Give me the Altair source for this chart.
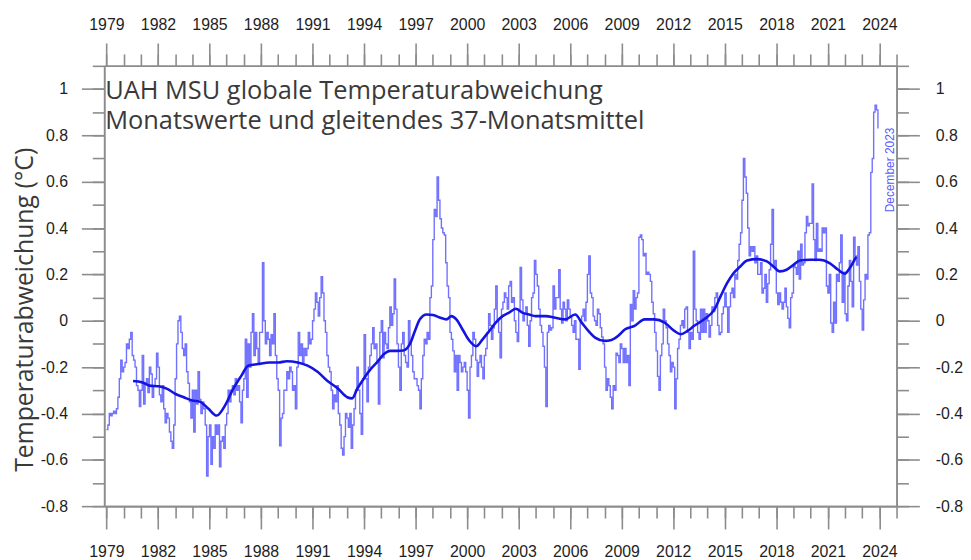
import altair as alt
import pandas as pd

# ---------------- data: monthly anomalies (deg C), Jan 1979 .. Dec 2023 ----------------
monthly_1979_1987 = [
    -0.47, -0.45, -0.40, -0.41, -0.40, -0.39, -0.40, -0.38, -0.33, -0.25, -0.17, -0.22,  # 1979
    -0.20, -0.18, -0.10, -0.12, -0.08, -0.05, -0.15, -0.17, -0.20, -0.28, -0.30, -0.37,  # 1980
    -0.30, -0.15, -0.36, -0.27, -0.25, -0.31, -0.20, -0.23, -0.33, -0.28, -0.25, -0.14,  # 1981
    -0.20, -0.32, -0.35, -0.28, -0.38, -0.44, -0.40, -0.42, -0.48, -0.52, -0.55, -0.45,  # 1982
    -0.25, -0.10, 0.00, 0.02, -0.05, -0.12, -0.15, -0.10, -0.22, -0.27, -0.35, -0.42,    # 1983
    -0.30, -0.48, -0.30, -0.36, -0.22, -0.34, -0.40, -0.35, -0.38, -0.45, -0.67, -0.50,  # 1984
    -0.45, -0.62, -0.50, -0.55, -0.45, -0.49, -0.45, -0.63, -0.52, -0.50, -0.55, -0.45,  # 1985
    -0.40, -0.30, -0.35, -0.30, -0.28, -0.32, -0.25, -0.30, -0.28, -0.35, -0.44, -0.30,  # 1986
    -0.25, -0.08, -0.33, -0.10, -0.20, -0.05, 0.03, -0.15, -0.05, -0.12, -0.18, -0.05,   # 1987
]
monthly_1988_1996 = [
    -0.05, 0.25, 0.00, -0.10, -0.05, -0.08, -0.15, -0.06, -0.10, 0.03, -0.15, -0.25,     # 1988
    -0.30, -0.54, -0.42, -0.40, -0.30, -0.30, -0.22, -0.25, -0.20, -0.22, -0.30, -0.28,  # 1989
    -0.38, -0.20, -0.05, -0.15, -0.10, -0.18, -0.12, -0.15, -0.12, -0.05, -0.10, -0.08,  # 1990
    0.00, 0.05, 0.12, 0.08, 0.02, 0.10, 0.19, 0.12, 0.00, -0.05, -0.15, -0.20,           # 1991
    -0.22, -0.30, -0.38, -0.32, -0.35, -0.28, -0.40, -0.45, -0.55, -0.58, -0.50, -0.40,  # 1992
    -0.42, -0.46, -0.40, -0.55, -0.45, -0.38, -0.30, -0.20, -0.30, -0.40, -0.49, -0.25,  # 1993
    -0.06, -0.25, -0.35, -0.20, -0.15, -0.10, -0.03, -0.12, -0.10, -0.18, -0.36, -0.05,  # 1994
    0.00, -0.16, -0.05, -0.10, -0.12, -0.03, 0.06, -0.02, 0.03, 0.18, 0.05, -0.10,       # 1995
    -0.20, -0.30, -0.10, -0.05, -0.15, -0.18, -0.20, 0.00, -0.10, -0.15, -0.22, -0.25,   # 1996
]
monthly_1997_2005 = [
    -0.25, -0.28, -0.30, -0.38, -0.25, -0.15, -0.08, -0.10, -0.05, -0.08, 0.10, 0.15,    # 1997
    0.35, 0.48, 0.45, 0.62, 0.52, 0.44, 0.40, 0.38, 0.37, 0.25, 0.15, 0.10,              # 1998
    -0.05, -0.08, -0.13, -0.22, -0.15, -0.30, -0.15, -0.18, -0.22, -0.20, -0.18, -0.22,  # 1999
    -0.30, -0.42, -0.20, -0.15, -0.05, -0.08, -0.17, -0.24, -0.18, -0.15, -0.20, -0.25,  # 2000
    -0.15, -0.12, -0.05, 0.03, -0.02, -0.08, -0.03, 0.05, 0.15, 0.00, -0.05, -0.16,      # 2001
    0.05, 0.08, 0.12, 0.10, 0.05, 0.15, 0.17, 0.08, 0.10, 0.00, -0.05, -0.09,            # 2002
    0.05, 0.23, 0.09, 0.00, 0.03, 0.06, -0.02, -0.11, 0.00, 0.10, 0.12, 0.26,            # 2003
    0.20, 0.15, 0.05, -0.02, -0.05, -0.11, -0.20, -0.37, -0.05, -0.02, -0.04, -0.03,     # 2004
    0.15, 0.05, 0.10, 0.10, 0.22, 0.05, -0.01, 0.08, 0.05, 0.00, 0.09, 0.05,             # 2005
]
monthly_2006_2014 = [
    0.02, -0.02, -0.05, 0.00, -0.08, -0.08, -0.21, 0.00, 0.02, 0.05, 0.00, 0.08,         # 2006
    0.20, 0.28, 0.12, 0.10, 0.02, 0.00, -0.02, 0.05, 0.03, -0.03, -0.07, -0.10,          # 2007
    -0.20, -0.30, -0.25, -0.28, -0.33, -0.38, -0.28, -0.30, -0.14, -0.15, -0.18, -0.10,  # 2008
    -0.12, -0.18, -0.12, -0.18, -0.15, -0.28, 0.07, 0.00, 0.13, 0.05, 0.10, 0.12,        # 2009
    0.36, 0.37, 0.35, 0.28, 0.29, 0.20, 0.21, 0.20, 0.17, 0.08, 0.03, -0.05,             # 2010
    -0.13, -0.24, -0.30, -0.15, -0.10, 0.05, 0.00, -0.03, -0.10, -0.15, -0.22, -0.18,    # 2011
    -0.20, -0.38, -0.25, -0.12, -0.08, -0.02, 0.00, -0.03, 0.05, 0.06, -0.05, -0.12,     # 2012
    -0.05, -0.08, 0.30, 0.05, 0.00, -0.05, -0.08, 0.05, -0.05, 0.05, -0.05, 0.03,        # 2013
    0.00, -0.07, -0.02, 0.06, 0.04, 0.10, 0.12, -0.02, -0.06, -0.05, 0.03, 0.06,         # 2014
]
monthly_2015_2023 = [
    0.12, 0.06, -0.05, 0.06, 0.12, 0.14, 0.10, 0.20, 0.18, 0.26, 0.33, 0.38,             # 2015
    0.52, 0.70, 0.62, 0.55, 0.40, 0.28, 0.32, 0.30, 0.32, 0.25, 0.28, 0.20,              # 2016
    0.20, 0.25, 0.12, 0.14, 0.20, 0.08, 0.16, 0.22, 0.33, 0.48, 0.23, 0.26,              # 2017
    0.12, 0.07, 0.12, 0.08, 0.05, 0.08, 0.14, 0.06, 0.01, -0.03, 0.10, 0.12,             # 2018
    0.24, 0.23, 0.20, 0.30, 0.18, 0.33, 0.24, 0.25, 0.38, 0.45, 0.41, 0.42,              # 2019
    0.42, 0.59, 0.35, 0.26, 0.42, 0.30, 0.31, 0.30, 0.40, 0.38, 0.40, 0.15,              # 2020
    0.12, 0.20, -0.01, -0.05, 0.08, -0.01, 0.20, 0.17, 0.25, 0.37, 0.08, 0.21,           # 2021
    0.03, 0.00, 0.15, 0.26, 0.17, 0.06, 0.36, 0.28, 0.24, 0.32, 0.17, 0.05,              # 2022
    -0.04, 0.09, 0.20, 0.18, 0.37, 0.38, 0.64, 0.70, 0.90, 0.93, 0.91, 0.83,             # 2023
]

# 37-month running mean (decimal year, deg C)
smooth_year = [
    1980.55, 1981.1, 1981.5, 1982.06, 1982.54, 1983.02, 1983.5, 1983.98, 1984.46, 1984.94,
    1985.42, 1985.9, 1986.38, 1986.86, 1987.25, 1987.83, 1988.5, 1989.0, 1989.5, 1990.14,
    1990.71, 1991.29, 1991.87, 1992.44, 1993.02, 1993.3, 1993.6, 1993.98, 1994.37, 1994.75,
    1995.14, 1995.52, 1995.9, 1996.29, 1996.67, 1996.96, 1997.25, 1997.64, 1998.02, 1998.4,
    1998.8, 1999.08, 1999.37, 1999.75, 2000.14, 2000.52, 2000.9, 2001.29, 2001.68, 2002.06,
    2002.44, 2002.83, 2003.21, 2003.6, 2003.98, 2004.56, 2005.13, 2005.71, 2006.29, 2006.67,
    2007.06, 2007.45, 2008.0, 2008.4, 2008.8, 2009.2, 2009.75, 2010.33, 2010.9, 2011.5,
    2012.06, 2012.44, 2012.83, 2013.2, 2013.8, 2014.4, 2014.76, 2015.14, 2015.52, 2015.9,
    2016.3, 2016.87, 2017.45, 2017.83, 2018.2, 2018.6, 2018.98, 2019.37, 2019.94, 2020.5,
    2021.1, 2021.6, 2021.98, 2022.27, 2022.65,
]
smooth_value = [
    -0.26, -0.266, -0.28, -0.283, -0.294, -0.316, -0.33, -0.344, -0.35, -0.38,
    -0.409, -0.366, -0.294, -0.237, -0.194, -0.187, -0.18, -0.18, -0.175, -0.18,
    -0.194, -0.22, -0.26, -0.29, -0.33, -0.335, -0.294, -0.25, -0.21, -0.18,
    -0.145, -0.13, -0.13, -0.128, -0.10, -0.044, 0.006, 0.027, 0.025, 0.014,
    0.006, 0.02, 0.006, -0.04, -0.087, -0.11, -0.08, -0.044, -0.007, 0.02,
    0.035, 0.052, 0.035, 0.027, 0.02, 0.02, 0.013, 0.006, 0.027, -0.008,
    -0.044, -0.073, -0.087, -0.083, -0.065, -0.037, -0.022, 0.006, 0.006, -0.008,
    -0.044, -0.058, -0.044, -0.023, 0.006, 0.049, 0.106, 0.163, 0.206, 0.234,
    0.26, 0.266, 0.256, 0.234, 0.213, 0.22, 0.24, 0.26, 0.263, 0.263,
    0.249, 0.22, 0.203, 0.227, 0.277,
]

title_lines = ["UAH MSU globale Temperaturabweichung",
               "Monatswerte und gleitendes 37-Monatsmittel"]
y_title = "Temperaturabweichung (°C)"
last_month_label = "December 2023"

first_year = 1979
year_ticks_all = list(range(1979, 2026))
year_ticks_major = list(range(1979, 2025, 3))
y_ticks_all = [round(-0.8 + 0.1 * k, 1) for k in range(20)]
y_ticks_major = [round(-0.8 + 0.2 * k, 1) for k in range(10)]

# ---------------- tables ----------------
monthly = (monthly_1979_1987 + monthly_1988_1996 + monthly_1997_2005
           + monthly_2006_2014 + monthly_2015_2023)
months_df = pd.DataFrame({
    "t": [first_year + i / 12 for i in range(len(monthly))],
    "v": monthly,
})
smooth_df = pd.DataFrame({"t": smooth_year, "v": smooth_value})
one_row = pd.DataFrame({"k": [0]})

# ---------------- styling ----------------
X_DOMAIN = [1978.87, 2025.0]
Y_DOMAIN = [-0.8, 1.1]
AXIS_GRAY = "#8c8c8c"
LABEL_COLOR = "#1e1e1e"
LABEL_FONT = "Liberation Sans"
MAJOR, MINOR = 23, 12


def xs():
    return alt.Scale(domain=X_DOMAIN, nice=False, zero=False)


def ys():
    return alt.Scale(domain=Y_DOMAIN, nice=False, zero=False)


def x_axis(orient, values, size, labels, pad):
    return alt.Axis(orient=orient, values=values, tickSize=size, labels=labels,
                    format="d", domain=True, domainColor=AXIS_GRAY, domainWidth=1.6,
                    ticks=True, tickColor=AXIS_GRAY, tickWidth=1.6, grid=False,
                    title=None, labelFont=LABEL_FONT, labelFontSize=16,
                    labelColor=LABEL_COLOR, labelPadding=pad, labelFlush=False,
                    labelOverlap=False, labelBound=False)


def y_axis(orient, values, size, labels, pad):
    return alt.Axis(orient=orient, values=values, tickSize=size, labels=labels,
                    labelExpr="toString(round(datum.value * 10) / 10)",
                    domain=True, domainColor=AXIS_GRAY, domainWidth=1.6,
                    ticks=True, tickColor=AXIS_GRAY, tickWidth=1.6, grid=False,
                    title=None, labelFont=LABEL_FONT, labelFontSize=16,
                    labelColor=LABEL_COLOR, labelPadding=pad, labelFlush=False,
                    labelOverlap=False, labelBound=False)


monthly_layer = alt.Chart(months_df).mark_line(
    interpolate="step-after", color="#3a3aff", strokeWidth=1.4, opacity=0.72
).encode(
    x=alt.X("t:Q", scale=xs(), axis=x_axis("bottom", year_ticks_all, MINOR, False, 15)),
    y=alt.Y("v:Q", scale=ys(), axis=y_axis("left", y_ticks_all, MINOR, False, 14)),
)

smooth_layer = alt.Chart(smooth_df).mark_line(
    interpolate="monotone", color="#1414e0", strokeWidth=2.6
).encode(
    x=alt.X("t:Q", scale=xs(), axis=x_axis("bottom", year_ticks_major, MAJOR, True, 15)),
    y=alt.Y("v:Q", scale=ys(), axis=y_axis("left", y_ticks_major, MAJOR, True, 14)),
)

top_right_minor = alt.Chart(smooth_df).mark_line(opacity=0).encode(
    x=alt.X("t:Q", scale=xs(), axis=x_axis("top", year_ticks_all, MINOR, False, 11)),
    y=alt.Y("v:Q", scale=ys(), axis=y_axis("right", y_ticks_all, MINOR, False, 16)),
)

top_right_major = alt.Chart(smooth_df).mark_line(opacity=0).encode(
    x=alt.X("t:Q", scale=xs(), axis=x_axis("top", year_ticks_major, MAJOR, True, 11)),
    y=alt.Y("v:Q", scale=ys(), axis=y_axis("right", y_ticks_major, MAJOR, True, 16)),
)

title_layer = alt.Chart(one_row).mark_text(
    text=title_lines, align="left", baseline="alphabetic", font="Open Sans",
    fontSize=25.6, lineHeight=31, color="#3a3a3a"
).encode(x=alt.value(1), y=alt.value(33))

ytitle_layer = alt.Chart(one_row).mark_text(
    text=y_title, angle=270, align="center", baseline="alphabetic",
    font="Open Sans", fontSize=25, color="#3a3a3a"
).encode(x=alt.value(-72), y=alt.value(246))

dec_layer = alt.Chart(one_row).mark_text(
    text=last_month_label, angle=270, align="center", baseline="alphabetic",
    font="Liberation Sans", fontSize=12, color="#5a5aff"
).encode(x=alt.value(796), y=alt.value(105))

chart = alt.layer(
    monthly_layer, smooth_layer, top_right_minor, top_right_major,
    title_layer, ytitle_layer, dec_layer
).resolve_axis(
    x="independent", y="independent"
).properties(
    width=799, height=444,
    padding={"left": 97, "top": 56, "right": 67, "bottom": 52},
    autosize=alt.AutoSizeParams(type="none"),
).configure_view(stroke=None)

chart.save("out.html", embed_options={"renderer": "svg", "actions": False})
